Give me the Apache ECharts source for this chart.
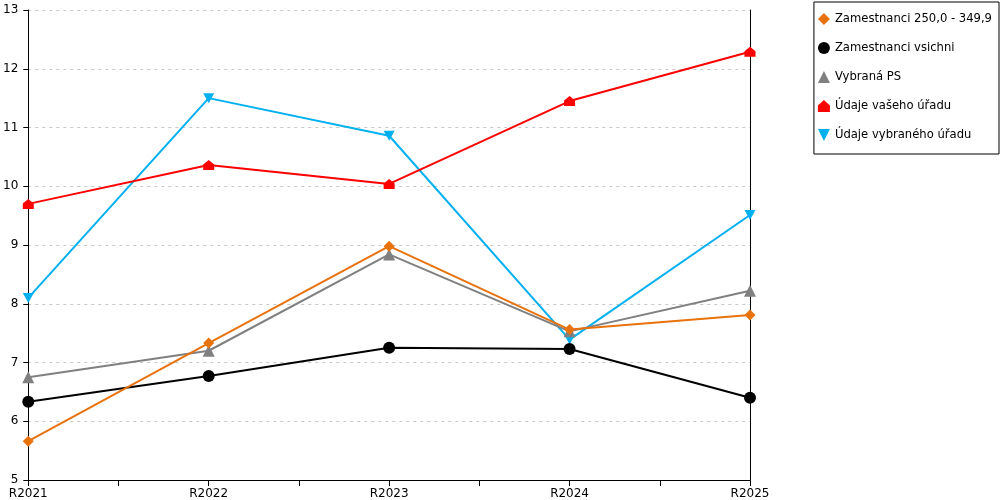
<!DOCTYPE html>
<html>
<head>
    <meta charset="utf-8"/>
    <title>Zamestnanci</title>
    <script src="https://cdn.jsdelivr.net/npm/echarts@6/dist/echarts.min.js"></script>
    <style>
        html, body { margin: 0; padding: 0; background: #fff; }
        #main { width: 1000px; height: 500px; }
    </style>
</head>
<body>
<div id="main"></div>
<script>
    // roky na ose x
    let categories = ['R2021', 'R2022', 'R2023', 'R2024', 'R2025'];

    let seriesNames = ['Zamestnanci 250,0 - 349,9', 'Zamestnanci vsichni', 'Vybraná PS', 'Údaje vašeho úřadu', 'Údaje vybraného úřadu'];
    let zam250 = [5.66, 7.33, 8.98, 7.56, 7.81];
    let zamVsichni = [6.33, 6.77, 7.25, 7.23, 6.40];
    let vybranaPS = [6.75, 7.20, 8.84, 7.53, 8.22];
    let vasUrad = [9.70, 10.36, 10.04, 11.45, 12.29];
    let vybranyUrad = [8.10, 11.50, 10.86, 7.39, 9.51];

    let colors = ['#e8720c', '#000000', '#808080', '#ff0000', '#00b0f0'];
    let houseIcon = 'path://M5,0L10,4.5L10,10L0,10L0,4.5Z';
    let downTriangle = 'path://M0,0L10,0L5,10Z';
    let symbols = ['diamond', 'circle', 'triangle', houseIcon, downTriangle];
    let symbolSizes = [11, 12, 12, [11, 10], [11, 10]];
    let values = [zam250, zamVsichni, vybranaPS, vasUrad, vybranyUrad];
    let zOrder = [6, 5, 4, 3, 2];

    function toPoints(arr) {
        return arr.map(function (v, i) { return [i, v]; });
    }

    let series = [];
    for (let i = 0; i < seriesNames.length; i++) {
        series.push({
            name: seriesNames[i],
            type: 'line',
            data: toPoints(values[i]),
            symbol: symbols[i],
            symbolSize: symbolSizes[i],
            showAllSymbol: true,
            z: zOrder[i],
            lineStyle: {color: colors[i], width: 2},
            itemStyle: {color: colors[i]},
            emphasis: {disabled: true},
            animation: false
        });
    }

    let myChart = echarts.init(document.getElementById('main'));
    let option = {
        textStyle: {fontFamily: 'DejaVu Sans'},
        grid: {left: 27, right: 250, top: 10, bottom: 20, containLabel: false},
        legend: {
            orient: 'vertical',
            right: 1,
            top: 2,
            padding: [11, 7, 13, 4],
            itemGap: 17,
            itemWidth: 12,
            itemHeight: 12,
            borderColor: '#000',
            borderWidth: 1,
            textStyle: {fontFamily: 'DejaVu Sans', fontSize: 11.6, color: '#000'},
            data: seriesNames.map(function (n, i) {
                return {name: n, icon: symbols[i], itemStyle: {color: colors[i]}};
            })
        },
        xAxis: {
            type: 'value',
            min: 0,
            max: categories.length - 1,
            interval: 0.5,
            axisLine: {lineStyle: {color: '#000', width: 1}},
            axisTick: {show: true, length: 6, lineStyle: {color: '#000'}},
            axisLabel: {
                color: '#000',
                fontSize: 12,
                margin: 8,
                showMinLabel: true,
                showMaxLabel: true,
                formatter: function (v) {
                    return Number.isInteger(v) ? categories[v] : '';
                }
            },
            splitLine: {show: false}
        },
        yAxis: [{
            type: 'value',
            min: 5,
            max: 13,
            interval: 1,
            axisLine: {show: true, lineStyle: {color: '#000', width: 1}},
            axisTick: {show: true, length: 5, lineStyle: {color: '#000'}},
            axisLabel: {color: '#000', fontSize: 12, margin: 10},
            splitLine: {show: true, lineStyle: {color: '#c8c8c8', type: [3, 4], width: 1}}
        }, {
            type: 'value',
            position: 'right',
            min: 5,
            max: 13,
            interval: 1,
            axisLine: {show: true, lineStyle: {color: '#000', width: 1}},
            axisTick: {show: false},
            axisLabel: {show: false},
            splitLine: {show: false}
        }],
        tooltip: {show: false},
        series: series
    };
    myChart.setOption(option);
</script>
</body>
</html>
